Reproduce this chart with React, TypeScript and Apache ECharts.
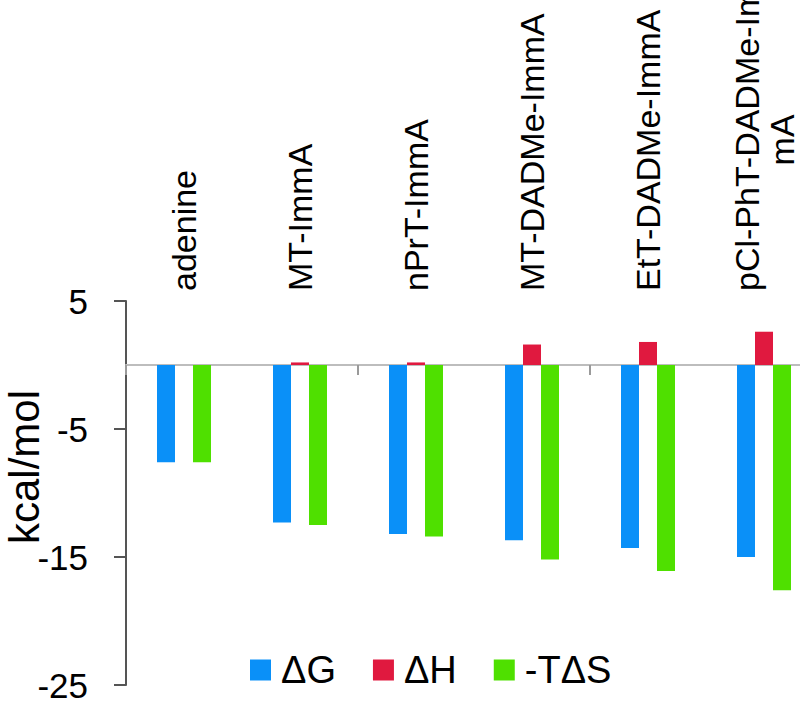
import React, { useEffect, useRef } from "react";
import * as echarts from "echarts";

const categories = [
  "adenine",
  "MT-ImmA",
  "nPrT-ImmA",
  "MT-DADMe-ImmA",
  "EtT-DADMe-ImmA",
  "pCl-PhT-DADMe-ImmA",
];
const deltaG = [-7.6, -12.3, -13.2, -13.7, -14.3, -15.0];
const deltaH = [0, 0.2, 0.2, 1.6, 1.8, 2.6];
const minusTdS = [-7.6, -12.5, -13.4, -15.2, -16.1, -17.6];
const seriesNames = ["ΔG", "ΔH", "-TΔS"];
const yTicks = { min: -25, max: 5, interval: 10 };

const FONT = "'Liberation Sans', Arial, sans-serif";

function wrapLabel(v: string): string {
  const maxLen = 16;
  if (v.length <= maxLen) return "{a|" + v + "}";
  return "{a|" + v.slice(0, maxLen) + "}\n{b|" + v.slice(maxLen) + "}";
}

export default function App() {
  const ref = useRef<HTMLDivElement>(null);
  useEffect(() => {
    document.body.style.margin = "0";
    document.body.style.overflow = "hidden";
    if (!ref.current) return;
    const chart = echarts.init(ref.current, null, { renderer: "svg" });
    const colors = ["#0A90F8", "#E0193F", "#4FE000"];
    chart.setOption({
      animation: false,
      backgroundColor: "#ffffff",
      color: colors,
      grid: {
        left: 126,
        top: 301,
        width: 696,
        height: 384,
        containLabel: false,
        outerBoundsMode: "none",
      },
      legend: {
        data: seriesNames,
        left: 245,
        top: 646,
        itemWidth: 21,
        itemHeight: 21,
        itemGap: 37,
        icon: "rect",
        textStyle: {
          fontFamily: FONT,
          fontSize: 38,
          color: "#000",
          padding: [0, 0, 0, 5],
        },
      },
      xAxis: [
        {
          type: "category",
          data: categories,
          position: "bottom",
          axisLine: { onZero: true, lineStyle: { color: "#bdbdbd", width: 2 } },
          axisTick: { show: true, length: 10, lineStyle: { color: "#9a9a9a", width: 2 } },
          axisLabel: { show: false },
          splitLine: { show: false },
        },
        {
          type: "category",
          data: categories,
          position: "top",
          axisLine: { show: false, onZero: false },
          axisTick: { show: false },
          axisLabel: {
            show: true,
            interval: 0,
            rotate: -90,
            margin: 10,
            formatter: wrapLabel,
            rich: {
              a: { fontFamily: FONT, fontSize: 34, color: "#000", lineHeight: 35 },
              b: { fontFamily: FONT, fontSize: 34, color: "#000", lineHeight: 35, align: "center" },
            },
          },
          splitLine: { show: false },
        },
      ],
      yAxis: {
        type: "value",
        min: yTicks.min,
        max: yTicks.max,
        interval: yTicks.interval,
        name: "kcal/mol",
        nameLocation: "middle",
        nameGap: 84,
        nameMoveOverlap: false,
        nameTextStyle: {
          fontFamily: FONT,
          fontSize: 42,
          lineHeight: 36,
          color: "#000",
          padding: [0, 0, 0, 52],
        },
        axisLine: { show: true, lineStyle: { color: "#555", width: 2 } },
        axisTick: { show: true, length: 12, lineStyle: { color: "#555", width: 2 } },
        axisLabel: { fontFamily: FONT, fontSize: 35, lineHeight: 26, color: "#000", margin: 38 },
        splitLine: { show: false },
      },
      series: [
        { name: seriesNames[0], type: "bar", data: deltaG, barWidth: 18, barGap: "0%" },
        { name: seriesNames[1], type: "bar", data: deltaH, barWidth: 18, barGap: "0%" },
        { name: seriesNames[2], type: "bar", data: minusTdS, barWidth: 18, barGap: "0%" },
      ],
    });
    return () => chart.dispose();
  }, []);
  return <div ref={ref} style={{ width: 800, height: 701 }} />;
}
